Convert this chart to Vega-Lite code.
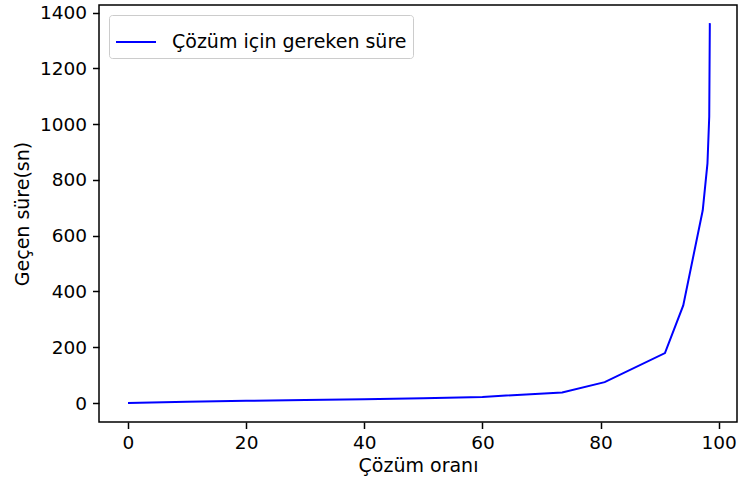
{
  "$schema": "https://vega.github.io/schema/vega-lite/v6.json",
  "width": 638,
  "height": 417,
  "autosize": {"type": "none"},
  "padding": {"left": 99, "top": 5, "right": 1, "bottom": 64},
  "background": "white",
  "data": {
    "values": [
      {"oran": 0, "sure": 0},
      {"oran": 10, "sure": 5},
      {"oran": 20, "sure": 8},
      {"oran": 30, "sure": 11},
      {"oran": 40, "sure": 14},
      {"oran": 50, "sure": 17},
      {"oran": 60, "sure": 22},
      {"oran": 73.5, "sure": 38},
      {"oran": 80.7, "sure": 75},
      {"oran": 90.9, "sure": 179},
      {"oran": 94.0, "sure": 350},
      {"oran": 97.3, "sure": 691},
      {"oran": 98.1, "sure": 859},
      {"oran": 98.4, "sure": 1027},
      {"oran": 98.5, "sure": 1362}
    ]
  },
  "mark": {"type": "line", "strokeWidth": 2, "clip": true},
  "encoding": {
    "x": {
      "field": "oran",
      "type": "quantitative",
      "scale": {"domain": [-4.91, 103.1], "nice": false, "zero": false},
      "axis": {"title": "Çözüm oranı", "values": [0, 20, 40, 60, 80, 100], "format": "d", "labelPadding": 5, "titlePadding": 4}
    },
    "y": {
      "field": "sure",
      "type": "quantitative",
      "scale": {"domain": [-68, 1427], "nice": false, "zero": false},
      "axis": {"title": "Geçen süre(sn)", "values": [0, 200, 400, 600, 800, 1000, 1200, 1400], "format": "d", "labelPadding": 6, "titlePadding": 7}
    },
    "color": {
      "datum": "Çözüm için gereken süre",
      "type": "nominal",
      "scale": {"range": ["#0000ff"]},
      "legend": {
        "title": null,
        "orient": "top-left",
        "offset": 10,
        "symbolType": "stroke",
        "symbolSize": 1600,
        "symbolStrokeWidth": 2,
        "labelOffset": 15,
        "labelFontSize": 19,
        "labelFont": "DejaVu Sans",
        "labelColor": "black",
        "labelLimit": 400,
        "fillColor": "white",
        "strokeColor": "#cccccc",
        "cornerRadius": 3,
        "padding": 6
      }
    }
  },
  "config": {
    "view": {"stroke": "black", "strokeWidth": 1.5},
    "axis": {
      "grid": false,
      "domain": false,
      "tickColor": "black",
      "tickSize": 6.5,
      "tickWidth": 1.5,
      "labelFont": "DejaVu Sans",
      "labelFontSize": 18.5,
      "labelColor": "black",
      "titleFont": "DejaVu Sans",
      "titleFontSize": 19,
      "titleFontWeight": "normal",
      "titleColor": "black"
    }
  }
}
